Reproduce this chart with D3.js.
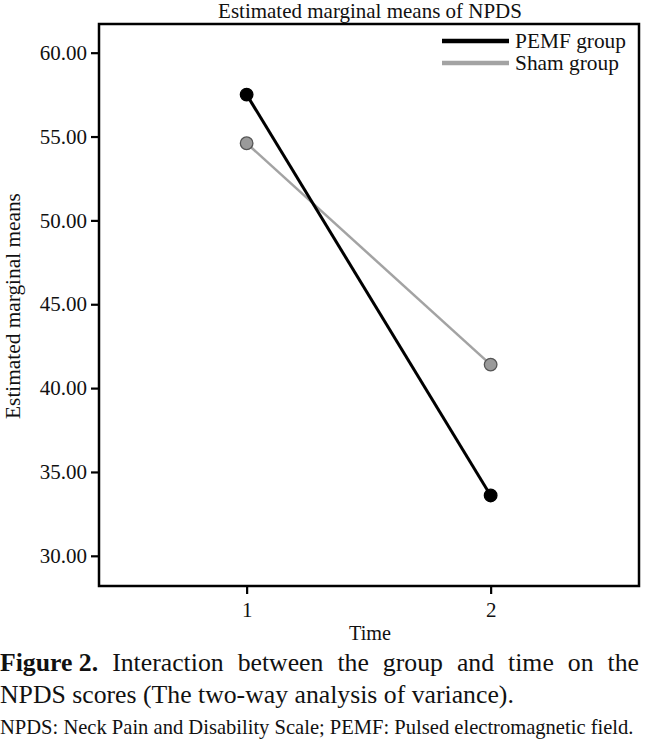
<!DOCTYPE html>
<html>
<head>
<meta charset="utf-8">
<script src="https://cdn.jsdelivr.net/npm/d3@7"></script>
<style>
  html, body { margin: 0; padding: 0; background: #fff; }
  svg { display: block; }
  text { font-family: "Liberation Serif", "DejaVu Serif", serif; fill: #111; }
</style>
</head>
<body>
<svg id="chart" width="645" height="740"></svg>
<script>
// ---- data ----
const times = [1, 2];
const timeLabels = ["1", "2"];
const groups = ["PEMF group", "Sham group"];
const pemfValues = [57.5, 33.6];
const shamValues = [54.6, 41.4];
const yTicks = [30, 35, 40, 45, 50, 55, 60];

const title = "Estimated marginal means of NPDS";
const yTitle = "Estimated marginal means";
const xTitle = "Time";
const captionBold = "Figure 2.";
const captionLine1 = "Interaction between the group and time on the";
const captionLine2 = "NPDS scores (The two-way analysis of variance).";
const footnote = "NPDS: Neck Pain and Disability Scale; PEMF: Pulsed electromagnetic field.";

// ---- layout ----
const box = { left: 99, right: 639, top: 24, bottom: 586 };
const svg = d3.select("#chart");

const x = d3.scaleLinear().domain([0.395, 2.608]).range([box.left, box.right]);
const y = d3.scaleLinear().domain([28.2, 61.71]).range([box.bottom, box.top]);

function fit(sel, target) {
  const base = parseFloat(sel.attr("font-size"));
  const w = sel.node().getComputedTextLength();
  sel.attr("font-size", base * target / w);
  return sel;
}

// title
fit(svg.append("text").attr("x", 370).attr("y", 18).attr("text-anchor", "middle")
  .attr("font-size", 20).text(title), 304);

// plot frame
svg.append("rect").attr("x", box.left).attr("y", box.top)
  .attr("width", box.right - box.left).attr("height", box.bottom - box.top)
  .attr("fill", "none").attr("stroke", "#000").attr("stroke-width", 2.5);

// y axis
const yAxis = svg.append("g").attr("transform", `translate(${box.left},0)`)
  .call(d3.axisLeft(y).tickValues(yTicks).tickFormat(d3.format(".2f")).tickSize(8).tickPadding(4));
yAxis.select(".domain").remove();
yAxis.selectAll(".tick line").attr("stroke", "#000").attr("stroke-width", 2.2);
yAxis.selectAll(".tick text").attr("font-family", "Liberation Serif").attr("font-size", 21).attr("fill", "#111");

// x axis
const xAxis = svg.append("g").attr("transform", `translate(0,${box.bottom})`)
  .call(d3.axisBottom(x).tickValues(times).tickFormat((d, i) => timeLabels[i]).tickSize(8).tickPadding(8));
xAxis.select(".domain").remove();
xAxis.selectAll(".tick line").attr("stroke", "#000").attr("stroke-width", 2.2);
xAxis.selectAll(".tick text").attr("font-family", "Liberation Serif").attr("font-size", 21).attr("fill", "#111");

// axis titles
fit(svg.append("text").attr("transform", "translate(20,306) rotate(-90)")
  .attr("text-anchor", "middle").attr("font-size", 19).text(yTitle), 226);
fit(svg.append("text").attr("x", 370).attr("y", 640).attr("text-anchor", "middle")
  .attr("font-size", 18).text(xTitle), 42);

// lines and points
const series = [
  { name: groups[0], values: pemfValues, line: "#000", width: 3, fill: "#000", stroke: "#000" },
  { name: groups[1], values: shamValues, line: "#a3a3a3", width: 2.5, fill: "#9a9a9a", stroke: "#555" }
];
const line = d3.line().x((d, i) => x(times[i])).y(d => y(d));
[series[1], series[0]].forEach(s => {
  svg.append("path").attr("d", line(s.values)).attr("fill", "none")
    .attr("stroke", s.line).attr("stroke-width", s.width);
});
[series[1], series[0]].forEach(s => {
  svg.selectAll(null).data(s.values).enter().append("circle")
    .attr("cx", (d, i) => x(times[i])).attr("cy", d => y(d)).attr("r", 6.3)
    .attr("fill", s.fill).attr("stroke", s.stroke).attr("stroke-width", 1.3);
});

// legend
series.forEach((s, i) => {
  const ly = 41 + i * 22;
  svg.append("line").attr("x1", 442).attr("x2", 509).attr("y1", ly).attr("y2", ly)
    .attr("stroke", s.name === groups[0] ? "#000" : "#a3a3a3").attr("stroke-width", 4.5);
  fit(svg.append("text").attr("x", 515).attr("y", ly + 6.5).attr("font-size", 20).text(s.name),
      i === 0 ? 111 : 104);
});

// caption line 2 and footnote (fit widths)
const l2 = fit(svg.append("text").attr("x", 0).attr("y", 703).attr("font-size", 22).text(captionLine2), 514);
const capSize = parseFloat(l2.attr("font-size"));
fit(svg.append("text").attr("x", 0).attr("y", 734).attr("font-size", 17).text(footnote), 634);

// caption line 1 justified
const words = [{ t: captionBold, bold: true }].concat(captionLine1.split(" ").map(t => ({ t, bold: false })));
const wNodes = words.map(w => svg.append("text").attr("y", 671).attr("font-size", capSize)
  .attr("font-weight", w.bold ? "bold" : "normal").text(w.t));
const widths = wNodes.map(n => n.node().getComputedTextLength());
const total = d3.sum(widths);
const gap = (639 - total) / (wNodes.length - 1);
let cx = 0;
wNodes.forEach((n, i) => { n.attr("x", cx); cx += widths[i] + gap; });
</script>
</body>
</html>
